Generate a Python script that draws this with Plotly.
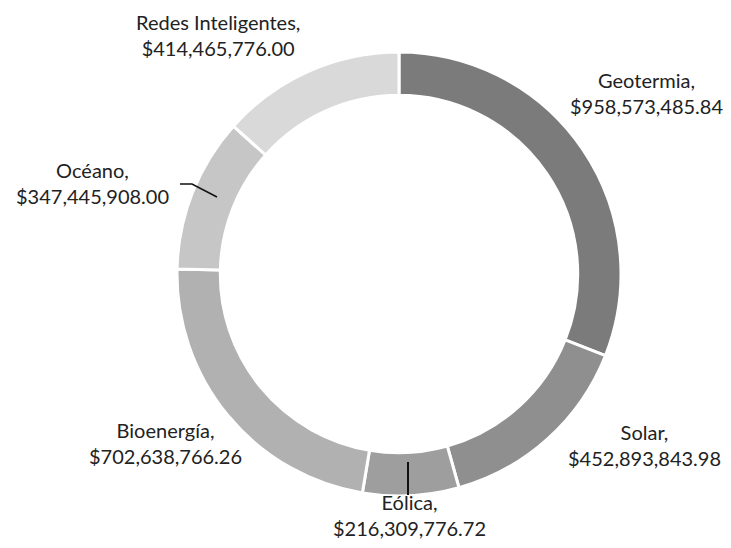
import plotly.graph_objects as go

categories = ["Geotermia", "Solar", "Eólica", "Bioenergía", "Océano", "Redes Inteligentes"]
values = [958573485.84, 452893843.98, 216309776.72, 702638766.26, 347445908.00, 414465776.00]
colors = ["#7b7b7b", "#8f8f8f", "#9e9e9e", "#b1b1b1", "#c6c6c6", "#d9d9d9"]

# page has an 8px body margin; size the figure so it fits inside the window
OFF = 8
W, H = 731 - 2 * OFF, 548 - 2 * OFF
# label block centres (window pixels) for each category, in the same order
label_pos = [(646, 93), (644, 445), (409, 515), (165, 443), (92, 183), (218, 35)]


def px(x, y):
    return (x - OFF) / W, 1 - (y - OFF) / H


x0, y1 = px(177, 52)
x1, y0 = px(621, 496)

fig = go.Figure(go.Pie(
    labels=categories,
    values=values,
    hole=0.805,
    sort=False,
    direction="clockwise",
    rotation=0,
    marker=dict(colors=colors, line=dict(color="white", width=3)),
    textinfo="none",
    hoverinfo="label+value",
    showlegend=False,
    domain=dict(x=[x0, x1], y=[y0, y1]),
))

annotations = []
for cat, val, (lx, ly) in zip(categories, values, label_pos):
    ax_, ay_ = px(lx, ly)
    annotations.append(dict(
        x=ax_, y=ay_, xref="paper", yref="paper",
        xanchor="center", yanchor="middle", align="center",
        text=f"{cat},<br>${val:,.2f}",
        showarrow=False,
        font=dict(family="Lato", size=20, color="#222222"),
    ))


def path(points):
    s = ""
    for i, (x, y) in enumerate(points):
        xx, yy = px(x, y)
        s += ("M" if i == 0 else "L") + f"{xx},{yy} "
    return s.strip()


shapes = [
    dict(type="path", xref="paper", yref="paper",
         path=path([(180, 184), (192, 184), (217, 197)]),
         line=dict(color="#111111", width=1.5)),
    dict(type="path", xref="paper", yref="paper",
         path=path([(408, 462), (408, 495)]),
         line=dict(color="#111111", width=2)),
]

fig.update_layout(
    width=W, height=H,
    margin=dict(l=0, r=0, t=0, b=0),
    paper_bgcolor="white",
    plot_bgcolor="white",
    annotations=annotations,
    shapes=shapes,
)

fig.write_html("out.html")
